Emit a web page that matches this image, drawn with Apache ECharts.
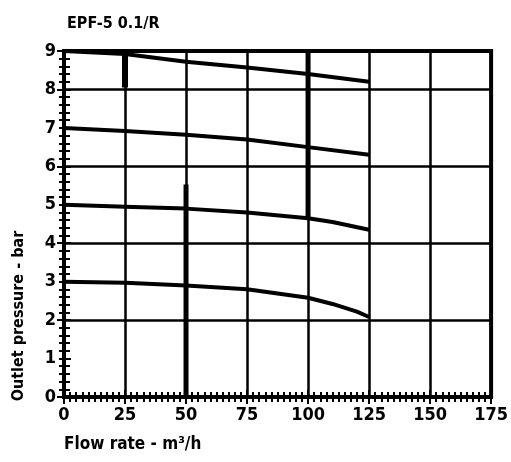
<!DOCTYPE html>
<html><head><meta charset="utf-8">
<script src="https://cdn.jsdelivr.net/npm/echarts@6/dist/echarts.min.js"></script>
<style>html,body{margin:0;padding:0;background:#fff}#c{width:511px;height:462px}</style>
</head><body><div id="c"></div>
<script>
const chartTitle = 'EPF-5 0.1/R';
const xName = 'Flow rate - m³/h';
const yName = 'Outlet pressure - bar';
const xMin = 0, xMax = 175, xStep = 25;
const yMin = 0, yMax = 9, yStep = 1;
const curve9 = [[0,9.0],[25,8.92],[50,8.72],[75,8.57],[100,8.4],[125,8.2]];
const curve7 = [[0,7.0],[25,6.92],[50,6.82],[75,6.7],[100,6.5],[125,6.3]];
const curve5 = [[0,5.0],[25,4.95],[50,4.9],[75,4.8],[100,4.65],[110,4.55],[125,4.35]];
const curve3 = [[0,3.0],[25,2.97],[50,2.9],[75,2.8],[100,2.58],[110,2.42],[120,2.22],[125,2.08]];
const markA = [[25,9],[25,8.05]];
const markB = [[50,5.53],[50,0]];
const markC = [[100,9],[100,4.67]];

const FONT = '"DejaVu Sans Condensed", "Liberation Sans Narrow", sans-serif';
const chart = echarts.init(document.getElementById('c'), null, {renderer:'canvas'});
const curveSeries = [curve9, curve7, curve5, curve3].map(d => ({
  type:'line', data:d, showSymbol:false, symbol:'none', silent:true,
  lineStyle:{color:'#000', width:4}, z:5
}));
const markSeries = [[markA,6],[markB,5],[markC,5]].map(([d,w]) => ({
  type:'line', data:d, showSymbol:false, symbol:'none', silent:true,
  lineStyle:{color:'#000', width:w}, z:4
}));
chart.setOption({
  animation:false,
  backgroundColor:'#fff',
  title:{text:chartTitle, left:62, top:11, textStyle:{fontFamily:FONT, fontWeight:'bold', fontSize:16, color:'#000'}},
  grid:{left:64, right:18, top:51, bottom:65, show:true, borderColor:'#000', borderWidth:4},
  xAxis:[{
    type:'value', min:xMin, max:xMax, interval:xStep, position:'bottom',
    axisLine:{show:true, lineStyle:{color:'#000', width:4}},
    axisTick:{show:true, inside:true, length:7, lineStyle:{color:'#000', width:2}},
    minorTick:{show:true, splitNumber:10, length:5, lineStyle:{color:'#000', width:2}},
    axisLabel:{margin:9, color:'#000', fontFamily:FONT, fontWeight:'bold', fontSize:18},
    splitLine:{show:true, lineStyle:{color:'#000', width:2.5}}
  },{
    type:'value', min:xMin, max:xMax, interval:xStep, position:'top',
    axisLine:{show:false},
    axisTick:{show:true, inside:true, length:7, lineStyle:{color:'#000', width:2}},
    minorTick:{show:true, splitNumber:10, length:5, lineStyle:{color:'#000', width:2}},
    axisLabel:{show:false}, splitLine:{show:false}
  }],
  yAxis:[{
    type:'value', min:yMin, max:yMax, interval:yStep, position:'left',
    axisLine:{show:true, lineStyle:{color:'#000', width:4}},
    axisTick:{show:true, inside:true, length:7, lineStyle:{color:'#000', width:2}},
    minorTick:{show:true, splitNumber:5, length:6, lineStyle:{color:'#000', width:2}},
    axisLabel:{margin:8, color:'#000', fontFamily:FONT, fontWeight:'bold', fontSize:18},
    splitLine:{show:false}
  },{
    type:'value', min:yMin, max:yMax, interval:yStep*2, position:'right',
    axisLine:{show:false},
    axisTick:{show:true, inside:true, length:7, lineStyle:{color:'#000', width:2}},
    minorTick:{show:true, splitNumber:10, length:5, lineStyle:{color:'#000', width:2}},
    axisLabel:{show:false},
    splitLine:{show:true, lineStyle:{color:'#000', width:2.5}}
  }],
  graphic:[
    {type:'text', x:64, y:436, style:{text:xName, fill:'#000', font:'bold 17px ' + FONT}},
    {type:'text', x:19, y:316, rotation:Math.PI/2, style:{text:yName, fill:'#000', font:'bold 16px ' + FONT, textAlign:'center', textVerticalAlign:'middle'}}
  ],
  series: curveSeries.concat(markSeries)
});
</script></body></html>
